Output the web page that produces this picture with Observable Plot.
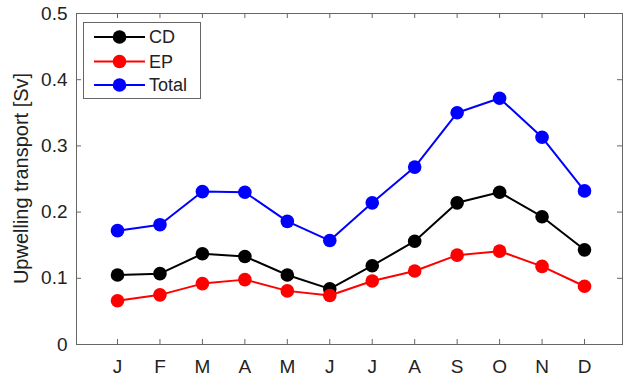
<!DOCTYPE html>
<html><head><meta charset="utf-8">
<script src="https://cdn.jsdelivr.net/npm/d3@7"></script>
<script src="https://cdn.jsdelivr.net/npm/@observablehq/plot@0.6"></script>
<style>body{margin:0;background:#fff;} #chart svg{display:block;}</style>
</head><body><div id="chart"></div>
<script>
const months = [1, 2, 3, 4, 5, 6, 7, 8, 9, 10, 11, 12];
const monthLabels = ["J", "F", "M", "A", "M", "J", "J", "A", "S", "O", "N", "D"];
const cd = [0.105, 0.107, 0.137, 0.133, 0.105, 0.084, 0.119, 0.156, 0.214, 0.230, 0.193, 0.143];
const ep = [0.066, 0.075, 0.092, 0.098, 0.081, 0.074, 0.096, 0.111, 0.135, 0.141, 0.118, 0.088];
const total = [0.172, 0.181, 0.231, 0.230, 0.186, 0.157, 0.214, 0.268, 0.350, 0.372, 0.313, 0.232];
const yTicks = [0, 0.1, 0.2, 0.3, 0.4, 0.5];
const yLabel = "Upwelling transport [Sv]";
const seriesNames = ["CD", "EP", "Total"];
const seriesColors = ["#000000", "#ff0000", "#0000ff"];
const seriesValues = [cd, ep, total];

const data = [];
seriesNames.forEach((s, i) => months.forEach((m, j) => data.push({series: s, month: m, value: seriesValues[i][j]})));

const W = 625, H = 378, mL = 76, mR = 3, mT = 13, mB = 34;
const plotW = W - mL - mR, plotH = H - mT - mB;
const axisColor = "#666";
const fontFam = "'Liberation Sans', Arial, sans-serif";

const seriesMarks = seriesNames.flatMap((s) => {
  const d = data.filter((r) => r.series === s);
  return [
    Plot.line(d, {x: "month", y: "value", stroke: "series", strokeWidth: 2}),
    Plot.dot(d, {x: "month", y: "value", fill: "series", r: 6.8})
  ];
});

const plot = Plot.plot({
  width: W, height: H,
  marginLeft: mL, marginRight: mR, marginTop: mT, marginBottom: mB,
  style: {fontFamily: fontFam, fontSize: "19px", color: "#222", background: "#fff", overflow: "visible"},
  x: {domain: [0.034, 12.895]},
  y: {domain: [0, 0.5]},
  color: {domain: seriesNames, range: seriesColors},
  marks: [
    Plot.frame({stroke: axisColor}),
    Plot.tickX(months, {x: (d) => d, insetTop: plotH - 5, stroke: axisColor}),
    Plot.tickX(months, {x: (d) => d, insetBottom: plotH - 5, stroke: axisColor}),
    Plot.tickY(yTicks, {y: (d) => d, insetRight: plotW - 5, stroke: axisColor}),
    Plot.tickY(yTicks, {y: (d) => d, insetLeft: plotW - 5, stroke: axisColor}),
    Plot.axisX(months, {tickSize: 0, tickPadding: 15, fontSize: 19, tickFormat: (d) => monthLabels[d - 1], label: null}),
    Plot.axisY(yTicks, {tickSize: 0, tickPadding: 9, fontSize: 19, tickFormat: (d) => d === 0 ? "0" : d.toFixed(1), label: null}),
    ...seriesMarks
  ]
});
document.getElementById("chart").appendChild(plot);

const svg = d3.select(plot);
// Y axis title
svg.append("text")
  .attr("transform", `translate(21,${mT + plotH / 2}) rotate(-90)`)
  .attr("text-anchor", "middle").attr("dy", "0.35em")
  .attr("font-family", fontFam).attr("font-size", 20).attr("fill", "#222")
  .text(yLabel);

// Legend inside the plot (upper left)
const lg = svg.append("g").attr("font-family", fontFam).attr("font-size", 18).attr("text-anchor", "start");
lg.append("rect").attr("x", 83.5).attr("y", 22.5).attr("width", 117).attr("height", 76)
  .attr("fill", "#fff").attr("stroke", axisColor);
const rowY = [37, 61.5, 85];
seriesNames.forEach((s, i) => {
  const g = lg.append("g");
  g.append("line").attr("x1", 94).attr("x2", 145).attr("y1", rowY[i]).attr("y2", rowY[i])
    .attr("stroke", seriesColors[i]).attr("stroke-width", 2);
  g.append("circle").attr("cx", 119.5).attr("cy", rowY[i]).attr("r", 6.8).attr("fill", seriesColors[i]);
  g.append("text").attr("x", 149).attr("y", rowY[i]).attr("dy", "0.35em").attr("fill", "#222").text(s);
});
</script>
</body></html>
